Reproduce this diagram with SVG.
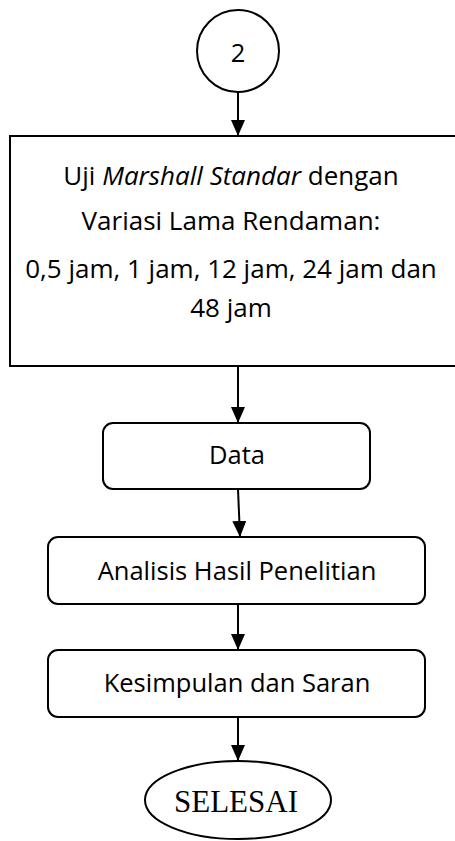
<svg xmlns="http://www.w3.org/2000/svg" width="455" height="841" viewBox="0 0 455 841">
<style>
.shape{fill:#fff;stroke:#000;stroke-width:2}
.lbl{font-family:"Open Sans","Noto Sans",sans-serif;font-size:25.5px;fill:#000;text-anchor:middle}
.big{font-size:26px}
.ser{font-family:"Liberation Serif","Times New Roman",serif;font-size:31px;fill:#000;text-anchor:middle}
.conn{stroke:#000;stroke-width:2;fill:none;marker-end:url(#arr)}
</style>
<defs>
<marker id="arr" viewBox="0 0 16 14" refX="16" refY="7" markerWidth="16" markerHeight="14" markerUnits="userSpaceOnUse" orient="auto">
<path d="M0,0 L16,7 L0,14 z" fill="#000"/>
</marker>
</defs>
<g id="connectors">
<line class="conn" x1="238" y1="92" x2="238" y2="136"/>
<line class="conn" x1="238" y1="366" x2="238" y2="423"/>
<line class="conn" x1="238" y1="489" x2="240" y2="537"/>
<line class="conn" x1="238" y1="604" x2="238" y2="650"/>
<line class="conn" x1="238" y1="717" x2="238" y2="761"/>
</g>
<g id="node-2">
<circle class="shape" cx="238" cy="51" r="41"/>
<text class="lbl" x="238" y="62">2</text>
</g>
<g id="node-uji">
<rect class="shape" x="10" y="136" width="450" height="230"/>
<text class="lbl big" x="231" y="185">Uji <tspan font-style="italic">Marshall Standar</tspan> dengan</text>
<text class="lbl big" x="231" y="230">Variasi Lama Rendaman:</text>
<text class="lbl big" x="231" y="278">0,5 jam, 1 jam, 12 jam, 24 jam dan</text>
<text class="lbl big" x="231" y="317">48 jam</text>
</g>
<g id="node-data">
<rect class="shape" x="103" y="423" width="267" height="66" rx="10"/>
<text class="lbl" x="237" y="464">Data</text>
</g>
<g id="node-analisis">
<rect class="shape" x="48" y="537" width="377" height="67" rx="10"/>
<text class="lbl" x="237" y="580">Analisis Hasil Penelitian</text>
</g>
<g id="node-kesimpulan">
<rect class="shape" x="48" y="650" width="377" height="67" rx="10"/>
<text class="lbl" x="237" y="692">Kesimpulan dan Saran</text>
</g>
<g id="node-selesai">
<ellipse class="shape" cx="238" cy="800" rx="93" ry="39"/>
<text class="ser" x="236" y="812">SELESAI</text>
</g>
</svg>
